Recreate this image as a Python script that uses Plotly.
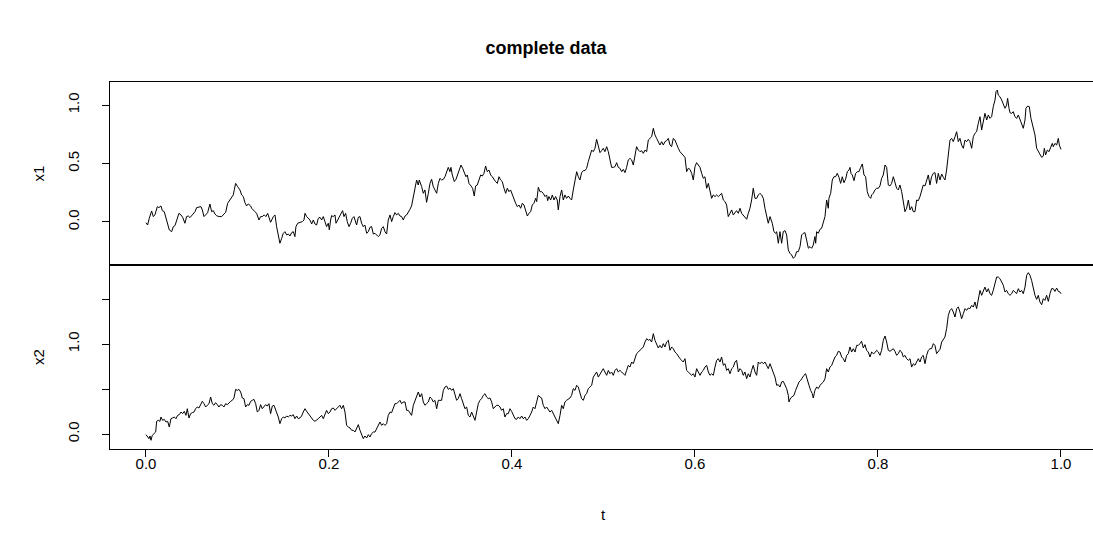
import plotly.graph_objects as go

# ---------------- data ----------------
t1 = [0.0, .0018, .0036, .0062, .0080, .0098, .0124, .0142, .0164, .0179, .0200, .0226, .0255, .0281, .0299, .0317,
      .0342, .0361, .0383, .0401, .0426, .0444, .0463, .0481, .0506, .0536, .0554, .0572, .0601, .0616, .0634, .0652,
      .0674, .0699, .0718, .0736, .0754, .0772, .0798, .0827, .0845, .0871, .0893, .0918, .0936, .0954, .0965, .0980,
      .1002, .1027, .1046, .1064, .1082, .1100, .1118, .1144, .1155, .1173, .1191, .1209, .1235, .1253, .1271, .1293,
      .1311, .1330, .1348, .1362, .1392, .1410,
      .1428, .1446, .1464, .1483, .1501, .1519, .1537, .1556, .1574, .1592, .1610, .1628, .1639, .1658, .1683, .1709,
      .1727, .1738, .1756, .1774, .1792, .1811, .1829, .1847, .1865, .1883, .1902, .1920, .1938, .1956, .1974, .1993,
      .2004, .2018, .2029, .2047, .2066, .2077, .2095, .2113, .2131, .2149, .2164, .2182, .2200, .2219, .2237, .2255,
      .2273, .2291, .2302, .2321, .2339, .2357, .2375, .2393, .2412, .2430, .2448, .2466, .2485, .2503, .2521, .2539,
      .2557, .2576, .2594, .2612, .2630, .2648, .2667, .2685, .2703, .2721, .2740, .2758, .2776, .2794, .2812, .2831,
      .2849, .2867, .2885, .2903, .2922, .2940, .2958, .2976, .2987, .3013, .3031, .3049, .3067, .3086, .3104, .3122,
      .3140, .3158, .3177, .3195, .3213,
      .3231, .3250, .3268, .3286, .3304, .3322, .3333, .3348, .3370, .3388, .3406, .3424, .3443, .3461, .3479, .3497,
      .3512, .3530, .3552, .3570, .3588, .3603, .3621, .3639, .3658, .3676, .3694, .3712, .3730, .3749, .3767, .3785,
      .3803, .3821, .3840, .3858, .3876, .3894, .3913, .3931, .3949, .3967, .3985, .4004, .4022, .4040, .4058, .4077,
      .4095, .4113, .4131, .4149, .4168, .4186, .4204, .4222, .4240, .4259, .4270, .4288, .4306, .4324, .4342, .4361,
      .4379, .4390, .4404, .4423, .4441, .4459, .4477, .4495, .4506, .4525, .4543, .4561, .4579, .4597, .4616, .4634,
      .4652, .4670, .4689, .4707, .4725, .4743, .4761, .4780, .4798, .4816, .4834, .4852, .4871, .4889, .4907, .4925,
      .4944, .4962, .4980, .4998, .5016,
      .5035, .5053, .5071, .5089, .5107, .5126, .5144, .5162, .5180, .5199, .5217, .5235, .5253, .5271, .5290, .5308,
      .5326, .5344, .5362, .5381, .5399, .5417, .5435, .5454, .5472, .5490, .5508, .5526, .5545, .5563, .5581, .5599,
      .5617, .5636, .5654, .5672, .5690, .5709, .5727, .5745, .5763, .5781, .5800, .5818, .5836, .5854, .5872, .5891,
      .5909, .5927, .5945, .5964, .5982, .6000, .6018, .6036, .6055, .6073, .6091, .6109, .6128, .6146, .6164, .6182,
      .6200, .6219, .6237, .6255, .6273, .6291, .6310, .6328, .6346, .6364, .6383, .6401, .6419, .6437, .6455, .6474,
      .6492, .6510, .6528, .6546, .6565, .6583, .6601, .6619, .6637, .6656, .6674, .6692, .6710, .6729, .6747, .6765,
      .6783, .6801, .6820,
      .6845, .6863, .6882, .6893, .6911, .6929, .6947, .6965, .6984, .7002, .7020, .7038, .7056, .7075, .7093, .7111,
      .7129, .7148, .7166, .7184, .7202, .7220, .7239, .7257, .7275, .7293, .7311, .7319, .7330, .7348, .7366, .7384,
      .7403, .7421, .7439, .7457, .7464, .7483, .7501, .7519, .7537, .7555, .7574, .7592, .7610, .7628, .7646, .7665,
      .7683, .7694, .7705, .7719, .7738, .7756, .7774, .7792, .7811, .7829, .7847, .7865, .7883, .7902, .7920, .7931,
      .7949, .7967, .7985, .8004, .8022, .8040, .8058, .8077, .8095, .8113, .8131, .8149, .8168, .8186, .8204, .8222,
      .8240, .8259, .8277, .8295, .8313, .8332, .8350, .8368, .8386, .8404, .8423, .8441, .8459, .8477, .8495, .8514,
      .8532, .8550, .8568, .8586, .8605, .8623,
      .8641, .8659, .8678, .8696, .8714, .8732, .8750, .8769, .8787, .8805, .8823, .8842, .8860, .8878, .8896, .8914,
      .8933, .8951, .8969, .8987, .9005, .9024, .9042, .9060, .9078, .9096, .9115, .9133, .9151, .9169, .9188, .9206,
      .9224, .9242, .9260, .9279, .9290, .9304, .9315, .9333, .9352, .9370, .9388, .9406, .9417, .9432, .9443, .9461,
      .9479, .9497, .9515, .9534, .9552, .9570, .9588, .9607, .9617, .9636, .9654, .9672, .9687, .9698, .9716, .9734,
      .9752, .9770, .9789, .9807, .9818, .9832, .9851, .9869, .9887, .9905, .9916, .9934, .9953, .9971, .9982, 1.0]

x1 = [-.006, -.026, .031, .094, .046, .060, .131, .123, .137, .097, .088, .023, -.068, -.083, -.040, -.031,
      .023, .074, .060, .040, -.011, .046, .051, .037, .060, .088, .123, .125, .131, .103, .046, .060,
      .080, .154, .088, .097, .068, .054, .046, .046, .060, .083, .160, .194, .211, .231, .274, .330,
      .302, .274, .231, .217, .165, .137, .154, .137, .117, .097, .088, .074, .017, .046, .046, .060,
      .046, .074, .031, -.003, .046, .060,
      -.040, -.111, -.182, -.140, -.097, -.083, -.111, -.103, -.120, -.091, -.083, -.125, -.040, -.011, -.006, .003,
      .017, .074, .046, .031, .017, -.017, .017, -.017, -.026, .031, .040, .017, .046, .003, -.040, -.011,
      -.068, .017, .054, .046, .060, -.011, .017, .046, .074, .097, .046, .074, .003, -.040, -.011, .031,
      .046, -.011, -.026, .040, .046, -.011, -.040, -.026, -.097, -.083, -.046, -.040, -.103, -.097, -.111, -.125,
      -.111, -.054, -.040, -.083, -.103, .017, .060, .003, .046, .080, .060, .074, .051, .046, .017, .051,
      .060, .080, .108, .137, .217, .259, .359, .316, .359, .302, .245, .274, .168, .245, .330, .365,
      .302, .274, .245, .330, .373,
      .359, .365, .387, .430, .467, .430, .467, .402, .345, .365, .402, .450, .487, .459, .416, .387,
      .402, .330, .308, .288, .222, .308, .316, .359, .402, .393, .416, .479, .430, .444, .402, .387,
      .359, .345, .330, .387, .359, .345, .288, .245, .288, .259, .274, .231, .202, .160, .131, .145,
      .117, .160, .145, .088, .051, .074, .088, .145, .160, .202, .174, .296, .259, .259, .245, .217,
      .231, .182, .217, .188, .231, .188, .217, .188, .103, .217, .274, .188, .231, .202, .222, .202,
      .188, .274, .359, .430, .387, .359, .422, .439, .439, .459, .516, .558, .615, .601, .630, .707,
      .644, .593, .610, .630, .601,
      .644, .601, .530, .467, .467, .473, .507, .467, .459, .430, .450, .422, .467, .530, .544, .530,
      .487, .558, .644, .615, .601, .610, .587, .615, .601, .701, .715, .729, .801, .744, .715, .687,
      .658, .687, .658, .687, .695, .715, .658, .644, .715, .701, .658, .630, .601, .587, .573, .553,
      .430, .459, .450, .416, .359, .473, .507, .487, .467, .416, .373, .387, .288, .330, .274, .202,
      .231, .217, .231, .217, .231, .245, .188, .174, .145, .046, .074, .103, .060, .074, .097, .074,
      .117, .074, .060, .040, .023, .074, .117, .188, .288, .202, .202, .231, .245, .231, .202, .117,
      .046, -.011, .046,
      -.011, -.083, -.097, -.083, -.182, -.083, -.182, -.083, -.074, -.111, -.239, -.268, -.282, -.311, -.296, -.254,
      -.254, -.211, -.111, -.097, -.091, -.154, -.225, -.211, -.225, -.197, -.125, -.182, -.083, -.097, -.063, -.054,
      -.011, .046, .188, .117, .202, .245, .359, .387, .387, .416, .382, .330, .387, .336, .365, .430,
      .444, .467, .416, .402, .353, .416, .430, .430, .467, .496, .402, .387, .259, .217, .202, .231,
      .245, .274, .288, .288, .308, .373, .402, .487, .467, .316, .308, .330, .387, .330, .288, .274,
      .316, .259, .188, .088, .117, .188, .103, .131, .088, .088, .188, .182, .217, .274, .316, .308,
      .359, .402, .316, .387, .416, .422,
      .330, .416, .359, .410, .382, .359, .444, .573, .701, .715, .687, .729, .772, .687, .715, .658,
      .630, .701, .687, .707, .687, .630, .729, .758, .772, .843, .900, .786, .858, .929, .872, .915,
      .886, .900, .986, 1.043, 1.114, 1.128, 1.085, 1.071, 1.043, 1.014, .972, 1.000, 1.057, .972, .934, .929,
      .943, .900, .886, .915, .872, .829, .801, .872, .972, .991, .986, .886, .829, .815, .744, .630,
      .601, .573, .553, .564, .630, .573, .615, .601, .630, .672, .644, .672, .658, .715, .658, .621]

t2 = [0.0, .0015, .0033, .0044, .0055, .0069, .0087, .0106, .0117, .0135, .0153, .0164, .0182, .0200, .0219, .0237,
      .0255, .0273, .0291, .0310, .0328, .0346, .0364, .0383, .0401, .0419, .0437, .0452, .0470, .0488, .0506, .0525,
      .0543, .0561, .0579, .0597, .0616, .0634, .0652, .0670, .0689, .0707, .0725, .0743, .0761, .0780, .0798, .0816,
      .0834, .0852, .0871, .0889, .0907, .0925, .0944, .0962, .0980, .0998, .1016, .1035, .1053, .1071, .1089, .1107,
      .1126, .1144, .1162, .1180, .1199, .1217, .1235, .1253, .1271, .1290, .1308, .1326, .1344, .1362, .1381, .1399,
      .1428, .1446, .1464, .1483, .1501, .1519, .1537, .1556, .1574, .1592, .1610, .1628, .1647, .1665, .1683, .1701,
      .1719, .1738, .1756, .1774, .1792, .1811, .1829, .1847, .1865, .1883, .1902, .1920, .1938, .1956, .1974, .1993,
      .2011, .2029, .2047, .2066, .2084, .2102, .2120, .2138, .2157, .2175, .2193, .2211, .2230, .2248, .2266, .2284,
      .2302, .2321, .2339, .2357, .2375, .2393, .2412, .2430, .2448, .2466, .2485, .2503, .2521, .2539, .2557, .2576,
      .2594, .2612, .2630, .2648, .2667, .2685, .2703, .2721, .2740, .2758, .2776, .2794, .2812, .2831, .2849, .2867,
      .2885, .2903, .2922, .2940, .2958, .2976, .2995, .3013, .3031, .3049, .3067, .3086, .3104, .3122, .3140, .3158,
      .3177, .3195, .3213,
      .3231, .3250, .3268, .3286, .3304, .3322, .3341, .3359, .3377, .3395, .3413, .3432, .3450, .3468, .3486, .3505,
      .3523, .3541, .3559, .3577, .3596, .3614, .3632, .3650, .3668, .3687, .3705, .3723, .3741, .3760, .3778, .3796,
      .3814, .3832, .3851, .3869, .3887, .3905, .3923, .3942, .3960, .3978, .3996, .4015, .4033, .4051, .4069, .4087,
      .4106, .4124, .4142, .4160, .4179, .4197, .4215, .4233, .4251, .4270, .4288, .4306, .4324, .4342, .4361, .4379,
      .4397, .4415, .4434, .4452, .4470, .4488, .4506, .4525, .4543, .4561, .4579, .4597, .4616, .4634, .4652, .4670,
      .4689, .4707, .4725, .4743, .4761, .4780, .4798, .4816, .4834, .4852, .4871, .4889, .4907, .4925, .4944, .4962,
      .4980, .4998, .5016,
      .5035, .5053, .5071, .5089, .5107, .5126, .5144, .5162, .5180, .5199, .5217, .5235, .5253, .5271, .5290, .5308,
      .5326, .5344, .5362, .5381, .5399, .5417, .5435, .5454, .5472, .5490, .5508, .5526, .5545, .5563, .5581, .5599,
      .5617, .5636, .5654, .5672, .5690, .5709, .5727, .5745, .5763, .5781, .5800, .5818, .5836, .5854, .5872, .5891,
      .5909, .5927, .5945, .5964, .5982, .6000, .6018, .6036, .6055, .6073, .6091, .6109, .6128, .6146, .6164, .6182,
      .6200, .6219, .6237, .6255, .6273, .6291, .6310, .6328, .6346, .6364, .6383, .6401, .6419, .6437, .6455, .6474,
      .6492, .6510, .6528, .6546, .6565, .6583, .6601, .6619, .6637, .6656, .6674, .6692, .6710, .6729, .6747, .6765,
      .6783, .6801, .6820,
      .6838, .6856, .6874, .6893, .6911, .6929, .6947, .6965, .6984, .7002, .7020, .7027, .7045, .7064, .7082, .7100,
      .7118, .7137, .7155, .7173, .7191, .7209, .7228, .7246, .7264, .7282, .7293, .7311, .7330, .7348, .7366, .7384,
      .7403, .7421, .7439, .7457, .7475, .7494, .7512, .7530, .7548, .7566, .7585, .7603, .7621, .7639, .7658, .7676,
      .7694, .7712, .7730, .7749, .7767, .7785, .7803, .7821, .7840, .7858, .7876, .7894, .7913, .7931, .7949, .7967,
      .7985, .8004, .8022, .8040, .8058, .8077, .8095, .8113, .8131, .8149, .8168, .8186, .8204, .8222, .8240, .8259,
      .8277, .8295, .8313, .8332, .8350, .8368, .8386, .8404, .8423, .8441, .8459, .8477, .8495, .8514, .8532, .8550,
      .8568, .8586, .8605, .8623,
      .8641, .8659, .8678, .8696, .8714, .8732, .8750, .8769, .8787, .8805, .8823, .8842, .8860, .8878, .8896, .8914,
      .8933, .8951, .8969, .8987, .9005, .9024, .9042, .9060, .9078, .9096, .9115, .9133, .9151, .9169, .9188, .9206,
      .9224, .9242, .9260, .9279, .9297, .9315, .9333, .9352, .9370, .9388, .9406, .9424, .9443, .9461, .9479, .9497,
      .9515, .9534, .9552, .9570, .9588, .9607, .9625, .9643, .9661, .9679, .9698, .9716, .9734, .9752, .9770, .9789,
      .9807, .9825, .9843, .9862, .9880, .9898, .9916, .9934, .9953, .9971, .9989, 1.0]

x2 = [-.007, -.033, -.052, -.022, -.070, -.015, .004, .022, .141, .152, .141, .189, .152, .163, .133, .141,
      .078, .170, .178, .189, .170, .207, .215, .244, .226, .252, .207, .281, .178, .226, .237, .244,
      .281, .300, .289, .326, .363, .337, .300, .319, .337, .411, .337, .319, .348, .326, .300, .326,
      .319, .300, .337, .326, .348, .363, .374, .400, .496, .485, .496, .467, .400, .393, .300, .326,
      .319, .363, .374, .385, .337, .244, .263, .326, .281, .300, .326, .311, .337, .226, .311, .319,
      .244, .189, .115, .170, .189, .178, .200, .189, .207, .200, .215, .170, .200, .170, .178, .200,
      .244, .281, .252, .226, .207, .170, .152, .141, .152, .170, .189, .207, .170, .215, .263, .226,
      .244, .281, .289, .263, .281, .300, .319, .281, .319, .244, .096, .078, .067, .041, .041, .022,
      .059, .104, .041, -.015, -.052, -.022, -.044, -.007, -.033, .004, .022, .022, .059, .096, .133, .096,
      .115, .096, .115, .207, .244, .237, .281, .337, .337, .356, .374, .337, .356, .356, .263, .263,
      .226, .207, .319, .374, .430, .467, .411, .448, .356, .319, .337, .356, .411, .393, .356, .374,
      .281, .374, .374,
      .374, .485, .522, .533, .496, .511, .485, .504, .430, .374, .393, .448, .393, .337, .281, .300,
      .207, .189, .244, .200, .152, .244, .337, .374, .393, .430, .448, .411, .393, .400, .356, .281,
      .300, .319, .319, .300, .263, .281, .189, .226, .226, .281, .252, .207, .170, .163, .189, .170,
      .200, .170, .189, .152, .170, .207, .244, .300, .281, .356, .430, .411, .400, .319, .281, .300,
      .263, .244, .263, .226, .189, .170, .115, .207, .319, .281, .356, .374, .393, .400, .430, .504,
      .485, .541, .522, .448, .393, .374, .430, .448, .504, .522, .541, .633, .670, .689, .633, .670,
      .707, .726, .689,
      .652, .707, .670, .689, .652, .707, .726, .689, .707, .689, .670, .652, .707, .763, .744, .800,
      .781, .837, .893, .911, .930, .941, .967, 1.022, 1.059, 1.041, 1.052, 1.022, 1.115, 1.041, 1.004, .956,
      .985, .956, 1.004, .967, 1.022, 1.041, .930, .967, .948, .911, .893, .856, .837, .819, .800, .837,
      .707, .689, .670, .652, .670, .633, .726, .689, .652, .689, .707, .744, .763, .689, .652, .670,
      .652, .744, .819, .837, .800, .856, .763, .781, .707, .726, .670, .726, .744, .800, .819, .689,
      .726, .707, .652, .689, .615, .670, .633, .707, .763, .689, .652, .800, .781, .800, .781, .800,
      .763, .726, .781,
      .726, .689, .633, .541, .548, .522, .578, .585, .541, .504, .430, .356, .400, .411, .430, .485,
      .541, .578, .596, .633, .652, .670, .615, .541, .485, .448, .400, .485, .522, .504, .541, .559,
      .578, .615, .726, .689, .744, .763, .819, .856, .874, .919, .911, .856, .837, .800, .874, .893,
      .967, .911, .948, .911, .985, .985, 1.004, 1.030, .956, .993, .930, .911, .856, .911, .893, .904,
      .930, .911, .874, .930, 1.041, 1.089, 1.022, .930, .919, .930, .948, .919, .874, .893, .930, .911,
      .856, .874, .837, .819, .837, .744, .781, .763, .800, .837, .800, .856, .874, .781, .874, .930,
      .948, .948, 1.004, .985,
      .893, .911, .941, 1.022, 1.059, 1.078, 1.170, 1.319, 1.374, 1.393, 1.356, 1.300, 1.393, 1.411, 1.356, 1.281,
      1.337, 1.393, 1.374, 1.400, 1.393, 1.430, 1.411, 1.467, 1.393, 1.504, 1.596, 1.541, 1.578, 1.633, 1.578, 1.615,
      1.559, 1.541, 1.596, 1.689, 1.744, 1.744, 1.726, 1.689, 1.652, 1.578, 1.596, 1.559, 1.541, 1.559, 1.596, 1.578,
      1.559, 1.615, 1.578, 1.596, 1.559, 1.633, 1.763, 1.793, 1.763, 1.707, 1.615, 1.541, 1.496, 1.541, 1.467, 1.437,
      1.504, 1.485, 1.541, 1.474, 1.559, 1.615, 1.615, 1.585, 1.622, 1.585, 1.578, 1.559]

x_ticks = [0.0, 0.2, 0.4, 0.6, 0.8, 1.0]
x_ticklabels = ["0.0", "0.2", "0.4", "0.6", "0.8", "1.0"]
y1_ticks = [0.0, 0.5, 1.0]
y1_ticklabels = ["0.0", "0.5", "1.0"]
y2_ticks = [0.0, 0.5, 1.0, 1.5]
y2_ticklabels = ["0.0", "", "1.0", ""]

title_text = "complete data"
x_title = "t"
series_names = ["x1", "x2"]

# ---------------- figure ----------------
FONT = "Liberation Sans, Arial, Helvetica, sans-serif"
W, H = 1093, 552
ML, MR, MT, MB = 110, 0, 82, 103
split = 184 / 367

fig = go.Figure()
fig.add_trace(go.Scatter(x=t1, y=x1, mode="lines", xaxis="x", yaxis="y",
                         line=dict(color="black", width=1), name=series_names[0]))
fig.add_trace(go.Scatter(x=t2, y=x2, mode="lines", xaxis="x2", yaxis="y2",
                         line=dict(color="black", width=1), name=series_names[1]))

xr = [-0.0393, 1.035]
common_y = dict(ticks="outside", ticklen=7, tickwidth=1, tickcolor="black",
                tickangle=-90, showline=True, linecolor="black", linewidth=1,
                showgrid=False, zeroline=False, ticklabelstandoff=17,
                tickfont=dict(family=FONT, size=15, color="black"))

fig.update_layout(
    width=W, height=H,
    margin=dict(l=ML, r=MR, t=MT, b=MB, pad=0),
    paper_bgcolor="white", plot_bgcolor="white",
    showlegend=False,
    font=dict(family=FONT, color="black"),
    title=dict(text="<b>" + title_text + "</b>", x=546 / W, xref="container", xanchor="center",
               y=1 - 48 / H, yref="container", yanchor="middle",
               font=dict(family=FONT, size=18, color="black")),
    xaxis=dict(domain=[0, 1], anchor="y", range=xr, showticklabels=False, ticks="",
               showline=True, mirror=True, linecolor="black", linewidth=1,
               showgrid=False, zeroline=False),
    yaxis=dict(domain=[split, 1], anchor="x", range=[-0.368, 1.197],
               tickvals=y1_ticks, ticktext=y1_ticklabels, **common_y),
    xaxis2=dict(domain=[0, 1], anchor="y2", range=xr,
                tickvals=x_ticks, ticktext=x_ticklabels,
                ticks="outside", ticklen=7, tickwidth=1, tickcolor="black",
                showline=True, mirror=True, linecolor="black", linewidth=1,
                showgrid=False, zeroline=False, ticklabelstandoff=-6,
                tickfont=dict(family=FONT, size=15, color="black")),
    yaxis2=dict(domain=[0, split], anchor="x2", range=[-0.1667, 1.878],
                tickvals=y2_ticks, ticktext=y2_ticklabels, **common_y),
)

plot_w = W - ML - MR
plot_h = H - MT - MB
fig.add_annotation(text=series_names[0], xref="paper", yref="paper",
                   x=(38 - ML) / plot_w, y=(449 - 173.5) / plot_h, showarrow=False,
                   textangle=-90, xanchor="center", yanchor="middle",
                   font=dict(family=FONT, size=15, color="black"))
fig.add_annotation(text=series_names[1], xref="paper", yref="paper",
                   x=(38 - ML) / plot_w, y=(449 - 357) / plot_h, showarrow=False,
                   textangle=-90, xanchor="center", yanchor="middle",
                   font=dict(family=FONT, size=15, color="black"))
fig.add_annotation(text=x_title, xref="paper", yref="paper",
                   x=(603 - ML) / plot_w, y=(449 - 514) / plot_h, showarrow=False,
                   xanchor="center", yanchor="middle",
                   font=dict(family=FONT, size=15, color="black"))

# remove the default page margin so the 1093x552 figure fills the window exactly
fig.write_html("out.html",
               config={"displayModeBar": False, "staticPlot": True},
               post_script="document.body.style.margin='0px';document.body.style.overflow='hidden';")
